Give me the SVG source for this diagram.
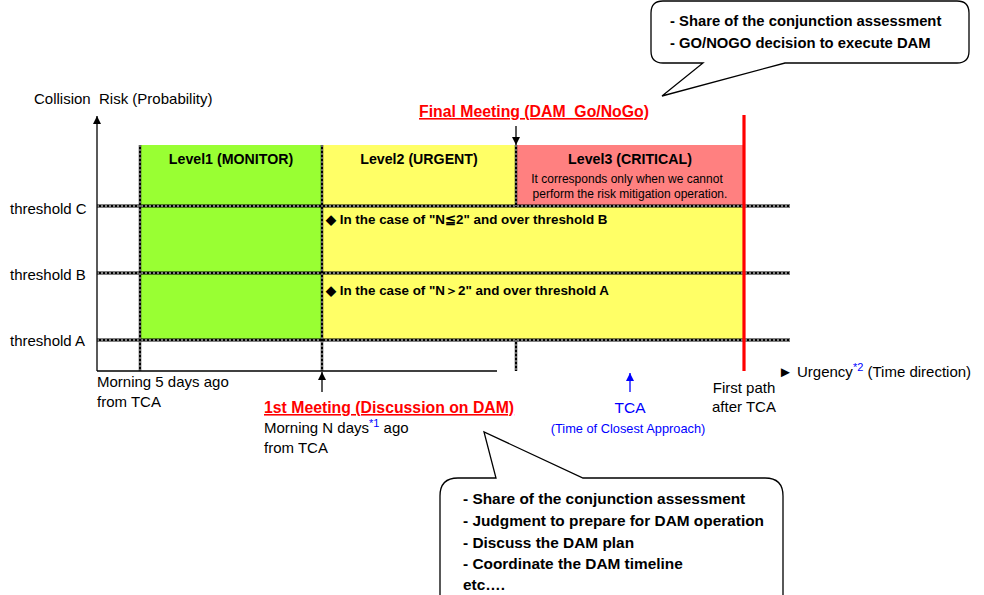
<svg xmlns="http://www.w3.org/2000/svg" width="984" height="595" viewBox="0 0 984 595">
  <defs>
    <marker id="ah" viewBox="0 0 10 10" refX="10" refY="5" markerWidth="9" markerHeight="8" markerUnits="userSpaceOnUse" orient="auto">
      <path d="M0,0 L10,5 L0,10 z" fill="#000"/>
    </marker>
    <marker id="ahb" viewBox="0 0 10 10" refX="10" refY="5" markerWidth="9" markerHeight="8" markerUnits="userSpaceOnUse" orient="auto">
      <path d="M0,0 L10,5 L0,10 z" fill="#0000FF"/>
    </marker>
  </defs>
  <style>
    text { font-family: "Liberation Sans", Arial, sans-serif; fill: #000; white-space: pre; }
    .lbl { font-size: 15px; }
    .bold { font-weight: bold; }
    .red { fill: #FF0000; font-weight: bold; font-size: 15.8px; text-decoration: underline; }
    .blue { fill: #0000FF; }
    .hatchB { stroke: #000; stroke-width: 3; fill: none; }
    .hatchW { stroke: #fff; stroke-width: 1; stroke-dasharray: 2 2; fill: none; }
    .vB { stroke: #000; stroke-width: 2.4; fill: none; }
    .vW { stroke: #fff; stroke-width: 0.8; stroke-dasharray: 2 2; fill: none; }
    .axis { stroke: #000; stroke-width: 1.3; fill: none; }
    .callout { fill: #fff; stroke: #000; stroke-width: 1.3; }
    .ctext { font-size: 14.8px; font-weight: bold; }
    .ctext2 { font-size: 15.4px; font-weight: bold; }
    .lvl { font-size: 14.2px; font-weight: bold; }
    .note { font-size: 12px; }
    .cond { font-size: 13.4px; font-weight: bold; }
  </style>

  <!-- level bands -->
  <g id="level1">
    <rect x="140" y="145" width="182" height="195" fill="#99FF33"/>
    <text x="231" y="164" class="lvl" text-anchor="middle">Level1 (MONITOR)</text>
  </g>
  <g id="level2">
    <rect x="322" y="145" width="422" height="195" fill="#FFFF66"/>
    <text x="419" y="164" class="lvl" text-anchor="middle">Level2 (URGENT)</text>
  </g>
  <g id="level3">
    <rect x="516" y="145" width="228" height="61" fill="#FF8080"/>
    <text x="630" y="164" class="lvl" text-anchor="middle">Level3 (CRITICAL)</text>
    <text x="627" y="183" class="note" text-anchor="middle">It corresponds only when we cannot</text>
    <text x="630" y="198" class="note" text-anchor="middle">perform the risk mitigation operation.</text>
  </g>

  <!-- thresholds and boundaries -->
  <g id="grid">
    <path class="hatchB" d="M97,206 H790 M97,273 H790 M97,340 H790"/>
    <path class="hatchW" d="M97,206 H790 M97,273 H790 M97,340 H790"/>
    <path class="vB" d="M140,145 V371 M322,145 V371 M516,145 V206 M516,340 V371"/>
    <path class="vW" d="M140,145 V371 M322,145 V371 M516,145 V206 M516,340 V371"/>
  </g>

  <g id="threshold-labels">
    <text x="10" y="214" class="lbl">threshold C</text>
    <text x="10" y="280" class="lbl">threshold B</text>
    <text x="10" y="346" class="lbl">threshold A</text>
  </g>

  <g id="conditions">
    <text x="326" y="224" class="cond">◆ In the case of "N≦2" and over threshold B</text>
    <text x="326" y="295" class="cond">◆ In the case of "N＞2" and over threshold A</text>
  </g>

  <!-- axes -->
  <g id="axes">
    <line class="axis" x1="97" y1="371" x2="97" y2="116" marker-end="url(#ah)"/>
    <line class="axis" x1="97" y1="371" x2="497" y2="371"/>
    <text x="34" y="104" class="lbl">Collision  Risk (Probability)</text>
    <text x="778" y="377" class="lbl" font-size="15.6">► Urgency<tspan class="blue" font-size="11" dy="-6">*2</tspan><tspan dy="6"> (Time direction)</tspan></text>
  </g>

  <!-- first pass after TCA -->
  <g id="first-path">
    <line x1="744" y1="115" x2="744" y2="371" stroke="#FF0000" stroke-width="3.2"/>
    <text x="744" y="393" class="lbl" text-anchor="middle">First path</text>
    <text x="744" y="412" class="lbl" text-anchor="middle">after TCA</text>
  </g>

  <!-- connectors -->
  <g id="connectors">
    <line class="axis" x1="516" y1="126" x2="516" y2="145" marker-end="url(#ah)"/>
    <line class="axis" x1="322" y1="392" x2="322" y2="372" marker-end="url(#ah)"/>
    <line x1="630" y1="392" x2="630" y2="373" stroke="#0000FF" stroke-width="1.3" marker-end="url(#ahb)"/>
  </g>

  <g id="final-meeting">
    <text x="534" y="117" class="red" text-anchor="middle">Final Meeting (DAM  Go/NoGo)</text>
  </g>

  <g id="start-label">
    <text x="97" y="387" class="lbl">Morning 5 days ago</text>
    <text x="97" y="407" class="lbl">from TCA</text>
  </g>

  <g id="first-meeting">
    <text x="264" y="413" class="red">1st Meeting (Discussion on DAM)</text>
    <text x="264" y="433" class="lbl">Morning N days<tspan class="blue" font-size="11" dy="-6">*1</tspan><tspan dy="6"> ago</tspan></text>
    <text x="264" y="453" class="lbl">from TCA</text>
  </g>

  <g id="tca">
    <text x="630" y="413" class="blue" font-size="15.5" text-anchor="middle">TCA</text>
    <text x="628" y="433" class="blue" font-size="12.8" text-anchor="middle">(Time of Closest Approach)</text>
  </g>

  <!-- callouts -->
  <g id="callout-final">
    <path class="callout" d="M663,1 H957 Q969,1 969,13 V51 Q969,63 957,63 H785 L662,96 L703,63 H663 Q651,63 651,51 V13 Q651,1 663,1 Z"/>
    <text x="670" y="26" class="ctext">- Share of the conjunction assessment</text>
    <text x="670" y="48" class="ctext">- GO/NOGO decision to execute DAM</text>
  </g>

  <g id="callout-first">
    <path class="callout" d="M458,478 H496 L484,432 L583,478 H765 Q783,478 783,496 V610 H440 V496 Q440,478 458,478 Z"/>
    <text x="463" y="504" class="ctext2">- Share of the conjunction assessment</text>
    <text x="463" y="526" class="ctext2">- Judgment to prepare for DAM operation</text>
    <text x="463" y="548" class="ctext2">- Discuss the DAM plan</text>
    <text x="463" y="569" class="ctext2">- Coordinate the DAM timeline</text>
    <text x="463" y="590" class="ctext2">etc….</text>
  </g>
</svg>
